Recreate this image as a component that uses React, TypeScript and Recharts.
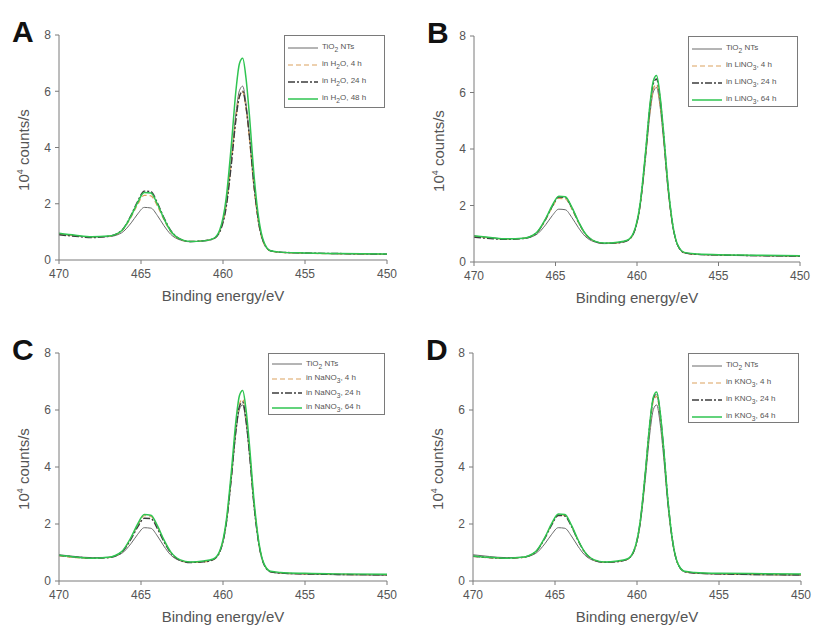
import React from "react";
import { LineChart, Line, XAxis, YAxis } from "recharts";

// binding energy grid (eV), dense around the Ti 2p peaks
const energy = [470, 469, 468, 467, 466.2, 465.6, 465.2, 464.8, 464.4, 464.0, 463.6, 463.2, 462.6, 462, 461.2, 460.6, 460.2, 459.8, 459.5, 459.2, 459.0, 458.8, 458.6, 458.4, 458.1, 457.8, 457.5, 457.1, 456.5, 455, 453, 450];
const xTicks = [470, 465, 460, 455, 450];
const yTicks = [0, 2, 4, 6, 8];

// 10^4 counts/s
const tio2Nts = [0.92, 0.86, 0.82, 0.83, 0.96, 1.32, 1.64, 1.87, 1.85, 1.58, 1.22, 0.92, 0.71, 0.65, 0.68, 0.75, 1.02, 2.0, 3.53, 5.27, 6.02, 6.18, 5.58, 4.5, 2.57, 1.23, 0.58, 0.32, 0.27, 0.24, 0.22, 0.2];

const h2o4 = [0.92, 0.86, 0.82, 0.84, 1.02, 1.53, 1.98, 2.3, 2.28, 1.92, 1.43, 1.02, 0.73, 0.66, 0.68, 0.75, 1.01, 1.96, 3.43, 5.11, 5.83, 5.98, 5.4, 4.36, 2.5, 1.2, 0.57, 0.32, 0.27, 0.24, 0.22, 0.2];
const h2o24 = [0.9, 0.84, 0.8, 0.84, 1.04, 1.6, 2.09, 2.45, 2.43, 2.03, 1.5, 1.06, 0.74, 0.66, 0.68, 0.75, 1.0, 1.9, 3.35, 5.05, 5.8, 6.0, 5.45, 4.45, 2.6, 1.25, 0.6, 0.33, 0.28, 0.25, 0.23, 0.21];
const h2o48 = [0.95, 0.88, 0.83, 0.85, 1.03, 1.57, 2.05, 2.4, 2.38, 1.99, 1.47, 1.04, 0.74, 0.66, 0.68, 0.76, 1.07, 2.23, 4.03, 6.09, 6.98, 7.17, 6.48, 5.22, 2.96, 1.39, 0.63, 0.33, 0.28, 0.25, 0.23, 0.21];

const li4 = [0.9, 0.85, 0.81, 0.84, 1.01, 1.5, 1.94, 2.25, 2.23, 1.88, 1.4, 1.01, 0.73, 0.66, 0.68, 0.76, 1.02, 2.03, 3.58, 5.36, 6.12, 6.28, 5.67, 4.58, 2.61, 1.25, 0.58, 0.33, 0.28, 0.25, 0.23, 0.21];
const li24 = [0.88, 0.83, 0.8, 0.83, 1.01, 1.52, 1.97, 2.3, 2.28, 1.92, 1.43, 1.02, 0.73, 0.66, 0.68, 0.76, 1.03, 2.07, 3.68, 5.52, 6.31, 6.48, 5.85, 4.72, 2.69, 1.28, 0.59, 0.33, 0.28, 0.25, 0.23, 0.21];
const li64 = [0.93, 0.87, 0.82, 0.84, 1.02, 1.54, 2.0, 2.33, 2.31, 1.94, 1.44, 1.03, 0.74, 0.67, 0.7, 0.77, 1.05, 2.1, 3.74, 5.61, 6.41, 6.6, 5.95, 4.8, 2.74, 1.3, 0.6, 0.34, 0.29, 0.26, 0.24, 0.22];

const na4 = [0.88, 0.82, 0.79, 0.82, 1.0, 1.52, 1.96, 2.29, 2.27, 1.91, 1.42, 1.01, 0.72, 0.65, 0.67, 0.75, 1.03, 2.05, 3.63, 5.44, 6.21, 6.38, 5.76, 4.65, 2.65, 1.26, 0.59, 0.33, 0.28, 0.25, 0.23, 0.22];
const na24 = [0.9, 0.84, 0.8, 0.82, 1.0, 1.48, 1.9, 2.2, 2.19, 1.84, 1.38, 1.0, 0.72, 0.65, 0.67, 0.75, 1.02, 2.02, 3.58, 5.36, 6.12, 6.28, 5.67, 4.58, 2.61, 1.25, 0.58, 0.32, 0.28, 0.25, 0.23, 0.22];
const na64 = [0.9, 0.84, 0.8, 0.83, 1.02, 1.54, 2.0, 2.33, 2.31, 1.94, 1.44, 1.03, 0.74, 0.67, 0.7, 0.77, 1.05, 2.12, 3.78, 5.68, 6.5, 6.68, 6.03, 4.86, 2.77, 1.31, 0.6, 0.34, 0.3, 0.27, 0.25, 0.24];

const k4 = [0.86, 0.81, 0.79, 0.82, 1.01, 1.53, 1.99, 2.32, 2.3, 1.93, 1.43, 1.02, 0.73, 0.66, 0.68, 0.76, 1.03, 2.07, 3.68, 5.52, 6.31, 6.48, 5.85, 4.72, 2.69, 1.28, 0.59, 0.33, 0.28, 0.25, 0.23, 0.22];
const k24 = [0.87, 0.82, 0.8, 0.83, 1.01, 1.52, 1.97, 2.3, 2.28, 1.92, 1.43, 1.02, 0.73, 0.66, 0.68, 0.76, 1.04, 2.09, 3.73, 5.6, 6.41, 6.58, 5.94, 4.79, 2.73, 1.3, 0.6, 0.33, 0.28, 0.25, 0.23, 0.22];
const k64 = [0.88, 0.83, 0.8, 0.83, 1.02, 1.55, 2.02, 2.35, 2.33, 1.96, 1.45, 1.03, 0.74, 0.67, 0.7, 0.77, 1.05, 2.11, 3.76, 5.64, 6.46, 6.63, 5.99, 4.83, 2.75, 1.3, 0.6, 0.34, 0.3, 0.27, 0.26, 0.25];

const FONT = "'Liberation Sans', Arial, sans-serif";
const AXIS = "#7a7a7a";
const TEXT = "#555";

const STYLES = [
  { key: "ref", color: "#6a6a6a", width: 1, dash: undefined },
  { key: "s1", color: "#dca15e", width: 1.2, dash: "5 3" },
  { key: "s2", color: "#3c3c3c", width: 1.4, dash: "7 2 2 2" },
  { key: "s3", color: "#2fc451", width: 1.5, dash: undefined },
];

interface PanelProps {
  letter: string;
  x: number;
  y: number;
  plot: { l: number; t: number; w: number; h: number };
  h: number;
  series: number[][];
  salt: React.ReactNode;
  hours: string[];
  legendW: number;
  legendH: number;
  thickTop?: boolean;
}

function Panel({ letter, x, y, plot, h, series, salt, hours, legendW, legendH, thickTop }: PanelProps) {
  const w = 410;
  const rows = energy.map((e, i) => ({ e, ref: tio2Nts[i], s1: series[0][i], s2: series[1][i], s3: series[2][i] }));
  const labels: React.ReactNode[] = [
    <>TiO<sub>2</sub> NTs</>,
    <>in {salt}, {hours[0]}</>,
    <>in {salt}, {hours[1]}</>,
    <>in {salt}, {hours[2]}</>,
  ];
  return (
    <div style={{ position: "absolute", left: x, top: y, width: w, height: h }}>
      <LineChart
        width={w}
        height={h}
        data={rows}
        margin={{ top: plot.t, left: 0, right: w - plot.l - plot.w, bottom: h - plot.t - plot.h - 24 }}
      >
        <XAxis
          dataKey="e"
          type="number"
          domain={[450, 470]}
          reversed
          ticks={xTicks}
          height={24}
          stroke={AXIS}
          tickSize={4}
          tickMargin={5}
          tick={{ fontSize: 12, fill: TEXT, fontFamily: FONT }}
        />
        <XAxis
          xAxisId="top"
          dataKey="e"
          type="number"
          domain={[450, 470]}
          reversed
          orientation="top"
          height={0}
          tick={false}
          tickLine={false}
          stroke={thickTop ? "#8a8a8a" : AXIS}
          strokeWidth={thickTop ? 3 : 1}
        />
        <YAxis
          type="number"
          domain={[0, 8]}
          ticks={yTicks}
          width={plot.l}
          stroke={AXIS}
          tickSize={4}
          tickMargin={4}
          tick={{ fontSize: 12, fill: TEXT, fontFamily: FONT }}
        />
        <YAxis yAxisId="right" orientation="right" domain={[0, 8]} width={0} tick={false} tickLine={false} stroke={AXIS} />
        {STYLES.map((s) => (
          <Line
            key={s.key}
            type="monotone"
            dataKey={s.key}
            stroke={s.color}
            strokeWidth={s.width}
            strokeDasharray={s.dash}
            dot={false}
            isAnimationActive={false}
          />
        ))}
      </LineChart>

      {/* panel letter */}
      <div style={{ position: "absolute", left: plot.l - 47, top: plot.t - 18, fontFamily: FONT, fontWeight: "bold", fontSize: 30, color: "#111", lineHeight: 1 }}>
        {letter}
      </div>

      {/* y label */}
      <div
        style={{
          position: "absolute",
          left: plot.l - 37 - 60,
          top: plot.t + plot.h / 2 - 10,
          width: 120,
          textAlign: "center",
          transform: "rotate(-90deg)",
          fontFamily: FONT,
          fontSize: 15,
          color: TEXT,
          lineHeight: "20px",
          whiteSpace: "nowrap",
        }}
      >
        10<sup style={{ fontSize: 9 }}>4</sup> counts/s
      </div>

      {/* x label */}
      <div style={{ position: "absolute", left: plot.l, width: plot.w, top: plot.t + plot.h + 27, textAlign: "center", fontFamily: FONT, fontSize: 15, color: TEXT }}>
        Binding energy/eV
      </div>

      {/* legend */}
      <div
        style={{
          position: "absolute",
          left: plot.l + plot.w - legendW,
          top: plot.t,
          width: legendW - 2,
          height: legendH,
          border: `1px solid ${AXIS}`,
          background: "#fff",
          fontFamily: FONT,
          fontSize: 8,
          color: TEXT,
          paddingTop: 3,
          boxSizing: "border-box",
        }}
      >
        {STYLES.map((s, i) => (
          <div key={s.key} style={{ display: "flex", alignItems: "center", height: legendH > 65 ? 17 : 14.5 }}>
            <svg width={30} height={6} style={{ marginLeft: 3, marginRight: 4 }}>
              <line x1={0} y1={3} x2={30} y2={3} stroke={s.color} strokeWidth={s.width} strokeDasharray={s.dash} />
            </svg>
            <span style={{ whiteSpace: "nowrap" }}>{labels[i]}</span>
          </div>
        ))}
      </div>
    </div>
  );
}

export default function App() {
  return (
    <div style={{ position: "absolute", left: 0, top: 0, width: 816, height: 627, background: "#fff", overflow: "hidden" }}>
      <Panel
        letter="A"
        x={0}
        y={0}
        h={310}
        plot={{ l: 59, t: 35, w: 328, h: 225 }}
        series={[h2o4, h2o24, h2o48]}
        salt={<>H<sub>2</sub>O</>}
        hours={["4 h", "24 h", "48 h"]}
        legendW={103}
        legendH={73}
      />
      <Panel
        letter="B"
        x={405}
        y={0}
        h={310}
        plot={{ l: 69, t: 36, w: 326, h: 226 }}
        series={[li4, li24, li64]}
        salt={<>LiNO<sub>3</sub></>}
        hours={["4 h", "24 h", "64 h"]}
        legendW={112}
        legendH={71}
      />
      <Panel
        letter="C"
        x={0}
        y={310}
        h={317}
        plot={{ l: 59, t: 43, w: 328, h: 228 }}
        series={[na4, na24, na64]}
        salt={<>NaNO<sub>3</sub></>}
        hours={["4 h", "24 h", "64 h"]}
        legendW={119}
        legendH={62}
        thickTop
      />
      <Panel
        letter="D"
        x={405}
        y={310}
        h={317}
        plot={{ l: 68, t: 43, w: 328, h: 228 }}
        series={[k4, k24, k64]}
        salt={<>KNO<sub>3</sub></>}
        hours={["4 h", "24 h", "64 h"]}
        legendW={113}
        legendH={70}
        thickTop
      />
    </div>
  );
}
